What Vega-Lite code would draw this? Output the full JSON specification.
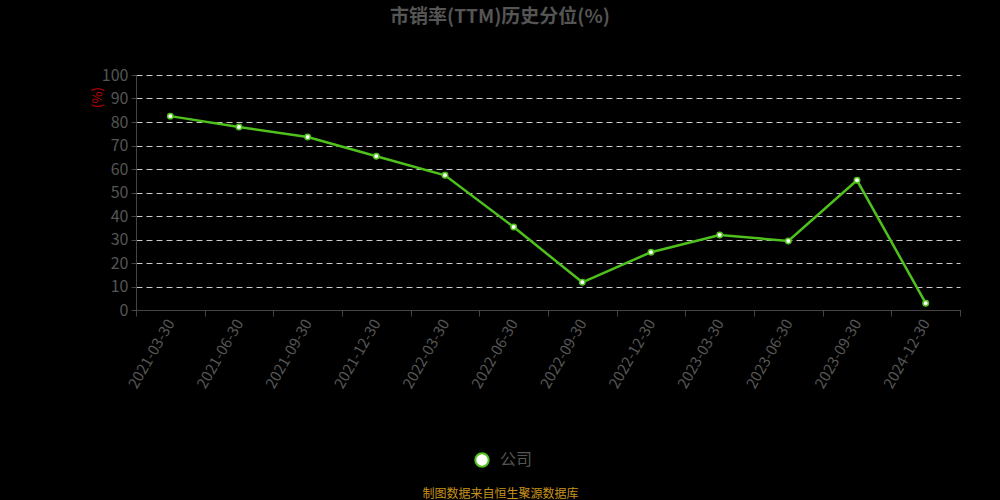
{
  "$schema": "https://vega.github.io/schema/vega-lite/v6.json",
  "autosize": "none",
  "width": 824,
  "height": 235,
  "padding": {"left": 136, "top": 75, "right": 40, "bottom": 190},
  "background": "#000000",
  "title": {
    "text": "市销率(TTM)历史分位(%)",
    "anchor": "middle",
    "frame": "group",
    "dx": -48,
    "offset": 40,
    "fontSize": 19,
    "fontWeight": "bold",
    "color": "#555555",
    "font": "Noto Sans CJK SC"
  },
  "config": {
    "view": {"stroke": "transparent"},
    "font": "Noto Sans CJK SC"
  },
  "data": {
    "values": [
      {"date": "2021-03-30", "series": "公司", "value": 82.5},
      {"date": "2021-06-30", "series": "公司", "value": 77.9},
      {"date": "2021-09-30", "series": "公司", "value": 73.6},
      {"date": "2021-12-30", "series": "公司", "value": 65.4},
      {"date": "2022-03-30", "series": "公司", "value": 57.3},
      {"date": "2022-06-30", "series": "公司", "value": 35.3},
      {"date": "2022-09-30", "series": "公司", "value": 11.8},
      {"date": "2022-12-30", "series": "公司", "value": 24.6},
      {"date": "2023-03-30", "series": "公司", "value": 31.9},
      {"date": "2023-06-30", "series": "公司", "value": 29.4},
      {"date": "2023-09-30", "series": "公司", "value": 55.2},
      {"date": "2024-12-30", "series": "公司", "value": 2.9}
    ]
  },
  "encoding": {
    "x": {
      "field": "date",
      "type": "ordinal",
      "sort": null,
      "scale": {"type": "band", "paddingInner": 0, "paddingOuter": 0},
      "axis": {
        "title": "制图数据来自恒生聚源数据库",
        "titleColor": "#c8921c",
        "titleFontSize": 12,
        "titleFontWeight": "normal",
        "titleX": 364,
        "titleY": 190,
        "titleBaseline": "bottom",
        "titleAnchor": "middle",
        "labelAngle": -60,
        "labelColor": "#555555",
        "labelFontSize": 15,
        "labelPadding": 4,
        "tickBand": "extent",
        "tickColor": "#444444",
        "tickSize": 6,
        "domainColor": "#444444",
        "grid": false
      }
    },
    "y": {
      "field": "value",
      "type": "quantitative",
      "scale": {"domain": [0, 100]},
      "axis": {
        "title": "(%)",
        "titleColor": "#cc0000",
        "titleFontSize": 13,
        "titleFontWeight": "normal",
        "titleAngle": 270,
        "titleX": -39,
        "titleY": 22,
        "titleAlign": "center",
        "titleBaseline": "middle",
        "values": [0, 10, 20, 30, 40, 50, 60, 70, 80, 90, 100],
        "labelColor": "#555555",
        "labelFontSize": 16,
        "labelPadding": 3,
        "tickColor": "#444444",
        "tickSize": 5,
        "domainColor": "#444444",
        "gridColor": "#cccccc",
        "gridDash": [6, 4],
        "gridWidth": 1
      }
    }
  },
  "layer": [
    {
      "mark": {"type": "line", "strokeWidth": 2.5},
      "encoding": {
        "stroke": {
          "field": "series",
          "type": "nominal",
          "scale": {"range": ["#4fc11d"]},
          "legend": {
            "title": null,
            "orient": "none",
            "legendX": 338,
            "legendY": 377,
            "symbolType": "circle",
            "symbolFillColor": "#ffffff",
            "symbolStrokeWidth": 2,
            "symbolSize": 180,
            "labelColor": "#555555",
            "labelFontSize": 16,
            "labelOffset": 10
          }
        }
      }
    },
    {
      "mark": {"type": "point", "filled": true, "fill": "#ffffff", "stroke": "#4fc11d", "strokeWidth": 1.5, "size": 30, "opacity": 1}
    }
  ]
}
